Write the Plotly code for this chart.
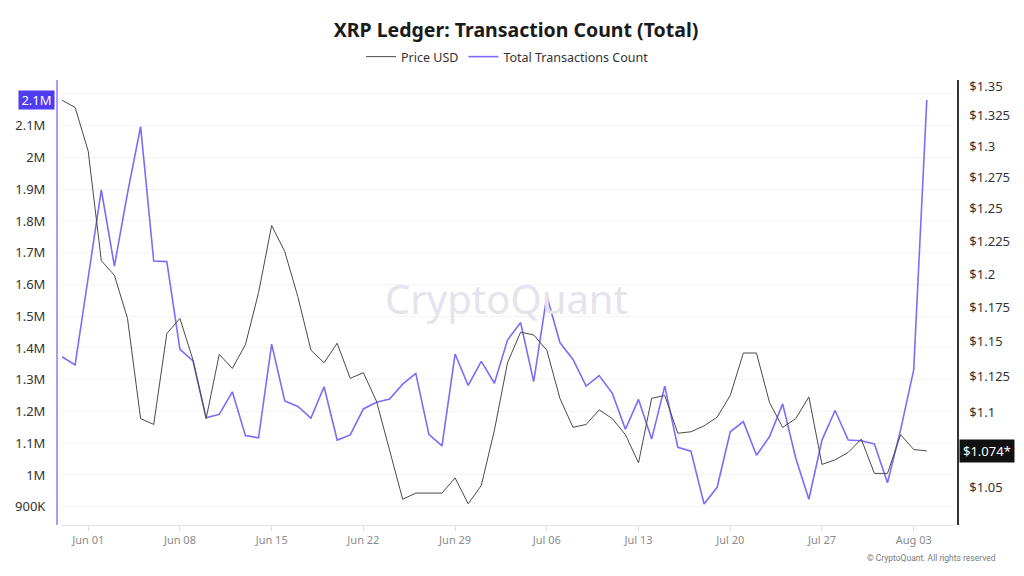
import numpy as np
import pandas as pd
import plotly.graph_objects as go

# daily values, May 30 -> Aug 04
dates = pd.date_range("2025-05-30", periods=67, freq="D")

price_usd = [
    1.338, 1.332, 1.296, 1.210, 1.199, 1.167, 1.096, 1.092, 1.156, 1.167,
    1.137, 1.096, 1.141, 1.131, 1.148, 1.186, 1.237, 1.217, 1.183, 1.144,
    1.135, 1.149, 1.124, 1.128, 1.108, 1.074, 1.042, 1.046, 1.046, 1.046,
    1.056, 1.039, 1.051, 1.088, 1.135, 1.157, 1.155, 1.144, 1.110, 1.090,
    1.092, 1.102, 1.096, 1.085, 1.066, 1.110, 1.112, 1.086, 1.087, 1.091,
    1.097, 1.112, 1.142, 1.142, 1.107, 1.090, 1.096, 1.111, 1.065, 1.068,
    1.073, 1.082, 1.059, 1.059, 1.085, 1.075, 1.074,
]

tx_count = [
    1372600, 1346500, 1622000, 1897600, 1658000, 1888000, 2097000, 1674000, 1672000, 1396000,
    1359000, 1180000, 1191000, 1262000, 1124000, 1117000, 1412000, 1233000, 1216000, 1179000,
    1278000, 1110000, 1126000, 1208000, 1229000, 1239000, 1286000, 1320000, 1128000, 1092000,
    1381000, 1282000, 1358000, 1289000, 1425000, 1480000, 1294000, 1564000, 1417000, 1364000,
    1280000, 1313000, 1257000, 1144000, 1238000, 1113000, 1280000, 1087000, 1075000, 908700,
    961300, 1136000, 1168000, 1062000, 1121000, 1224000, 1053000, 923500, 1110000, 1203000,
    1110000, 1108000, 1098000, 975700, 1142000, 1331000, 2181000,
]

# top tick (2.2M) sits under the current-value tag, so its label stays empty
count_ticks = [900000, 1000000, 1100000, 1200000, 1300000, 1400000, 1500000,
               1600000, 1700000, 1800000, 1900000, 2000000, 2100000, 2200000]
count_labels = ["900K", "1M", "1.1M", "1.2M", "1.3M", "1.4M", "1.5M",
                "1.6M", "1.7M", "1.8M", "1.9M", "2M", "2.1M", ""]

price_ticks = [1.05, 1.075, 1.1, 1.125, 1.15, 1.175, 1.2, 1.225, 1.25,
               1.275, 1.3, 1.325, 1.35]
price_labels = ["$1.05", "", "$1.1", "$1.125", "$1.15", "$1.175", "$1.2",
                "$1.225", "$1.25", "$1.275", "$1.3", "$1.325", "$1.35"]

PURPLE = "#7d6cf7"
FONT = "Noto Sans"

# page has an 8px body margin, so the figure is drawn 8px smaller
W, H = 1016, 568
L, R, T, B = 49, 66, 72, 51
plot_w = W - L - R
plot_h = H - T - B

fig = go.Figure()

fig.add_trace(go.Scatter(
    x=dates, y=price_usd, name="Price USD", mode="lines",
    line=dict(color="#4a4a4a", width=1), yaxis="y2",
))
fig.add_trace(go.Scatter(
    x=dates, y=tx_count, name="Total Transactions Count", mode="lines",
    line=dict(color=PURPLE, width=1.6), yaxis="y",
))

fig.update_layout(
    width=W, height=H,
    margin=dict(l=L, r=R, t=T, b=B, autoexpand=False),
    paper_bgcolor="white", plot_bgcolor="white",
    font=dict(family=FONT, color="#333333", size=13),
    title=dict(
        text="<b>XRP Ledger: Transaction Count (Total)</b>",
        x=0.5, xanchor="center", y=1 - 22 / H, yanchor="middle",
        font=dict(size=19.5, color="#1a1a1a", family=FONT),
    ),
    showlegend=True,
    legend=dict(
        orientation="h", x=0.5, xanchor="center",
        y=(plot_h + T - 49) / plot_h, yanchor="middle",
        font=dict(size=12.5, color="#333333"), itemwidth=30,
        bgcolor="rgba(0,0,0,0)",
    ),
    xaxis=dict(
        domain=[5 / plot_w, 1 - 5 / plot_w],
        range=["2025-05-30", "2025-08-06"],
        tick0="2025-06-01", dtick=7 * 24 * 3600 * 1000,
        tickformat="%b %d", automargin=False,
        showgrid=False, zeroline=False,
        showline=True, linecolor="#e3e3e8", linewidth=1,
        ticks="outside", ticklen=5, tickcolor="#dcdce0",
        tickfont=dict(size=11, color="#8a8a8a"),
    ),
    yaxis=dict(
        anchor="free", position=0, side="left", automargin=False,
        range=[842500, 2244000],
        tickvals=count_ticks, ticktext=count_labels,
        showgrid=True, gridcolor="#f3f3f5", gridwidth=1,
        zeroline=False,
        showline=True, linecolor="#a89cf8", linewidth=2,
        ticks="", ticklabelstandoff=8,
        tickfont=dict(size=13, color="#333333"),
    ),
    yaxis2=dict(
        anchor="free", position=1, side="right", overlaying="y",
        type="log", automargin=False,
        range=[np.log10(1.0253), np.log10(1.3551)],
        tickvals=price_ticks, ticktext=price_labels,
        showgrid=False, zeroline=False,
        showline=True, linecolor="#333333", linewidth=1.5,
        ticks="", ticklabelstandoff=8,
        tickfont=dict(size=13, color="#333333"),
    ),
)

# current value tags on both axes
fig.add_annotation(
    x=0, xref="paper", y=tx_count[-1], yref="y",
    xanchor="right", yanchor="middle", xshift=-2,
    text="2.1M", showarrow=False, width=31, height=14,
    bgcolor="#4f3bf0", borderpad=2,
    font=dict(size=13, color="white", family=FONT),
)
fig.add_annotation(
    x=1, xref="paper", y=np.log10(price_usd[-1]), yref="y2",
    xanchor="left", yanchor="middle", xshift=1,
    text="$1.074*", showarrow=False, height=16,
    bgcolor="#111111", borderpad=3,
    font=dict(size=13, color="white", family=FONT),
)

# watermark and credit
fig.add_annotation(
    x=0.4994, y=0.51, xref="paper", yref="paper",
    text="CryptoQuant", showarrow=False,
    font=dict(size=40, color="#e4e4ec", family=FONT),
)
fig.add_annotation(
    x=(990 - L) / plot_w, y=(plot_h + T - 550) / plot_h,
    xref="paper", yref="paper",
    text="© CryptoQuant. All rights reserved", showarrow=False,
    xanchor="right", yanchor="middle",
    font=dict(size=8.5, color="#7a7a7a", family="Roboto"),
)

fig.write_html("out.html")
